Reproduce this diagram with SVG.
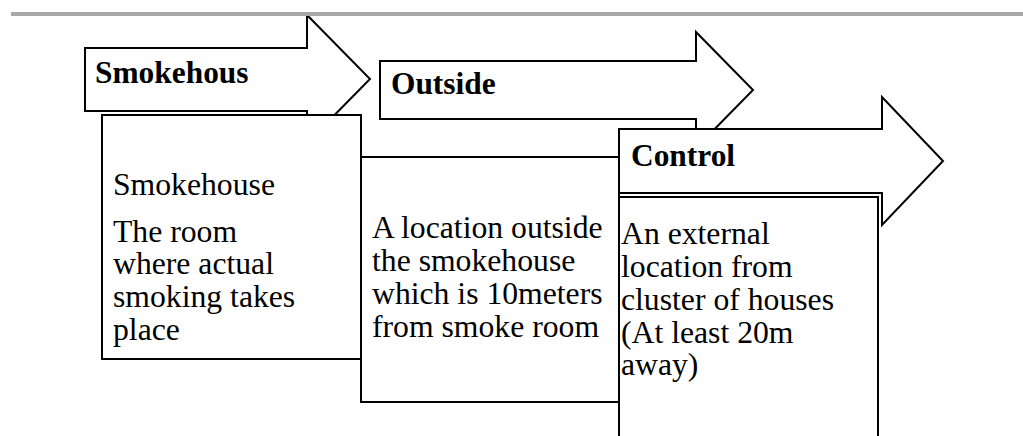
<svg xmlns="http://www.w3.org/2000/svg" width="1023" height="436" viewBox="0 0 1023 436">
<style>
.sh{fill:#fff;stroke:#000;stroke-width:2;stroke-linejoin:miter}
.lb{font-family:"Liberation Serif","Times New Roman",serif;font-weight:bold;font-size:31.4px;fill:#000}
.tx{font-family:"Liberation Serif","Times New Roman",serif;font-size:31.7px;fill:#000}
</style>
<rect width="1023" height="436" fill="#fff"/>
<g id="arrow-smokehouse">
<polygon class="sh" points="85,48 307,48 307,15 370,79 307,143 307,111 85,111"/>
<text class="lb" x="95" y="83">Smokehous</text>
</g>
<g id="box-smokehouse">
<rect class="sh" x="102" y="115" width="259" height="244"/>
<text class="tx" x="113" y="195">Smokehouse</text>
<text class="tx" x="113" y="241.5">The room</text>
<text class="tx" x="113" y="274">where actual</text>
<text class="tx" x="113" y="306.5">smoking takes</text>
<text class="tx" x="113" y="339.5">place</text>
</g>
<g id="arrow-outside">
<polygon class="sh" points="380,61 696,61 696,32 753,90 696,148 696,119 380,119"/>
<text class="lb" x="391" y="94">Outside</text>
</g>
<g id="box-outside">
<rect class="sh" x="361" y="157" width="258" height="245"/>
<text class="tx" x="372" y="238">A location outside</text>
<text class="tx" x="372" y="271">the smokehouse</text>
<text class="tx" x="372" y="304">which is 10meters</text>
<text class="tx" x="372" y="337">from smoke room</text>
</g>
<g id="arrow-control">
<polygon class="sh" points="619,129 882,129 882,97 943,161 882,225 882,193 619,193"/>
<text class="lb" x="631" y="166">Control</text>
</g>
<g id="box-control">
<rect class="sh" x="619" y="197" width="259" height="260"/>
<text class="tx" x="621" y="244">An external</text>
<text class="tx" x="621" y="277">location from</text>
<text class="tx" x="621" y="310">cluster of houses</text>
<text class="tx" x="621" y="343">(At least 20m</text>
<text class="tx" x="621" y="375">away)</text>
</g>
<g id="connectors"></g>
<line x1="11" y1="14" x2="1023" y2="14" stroke="#a9a9a9" stroke-width="4"/>
</svg>
